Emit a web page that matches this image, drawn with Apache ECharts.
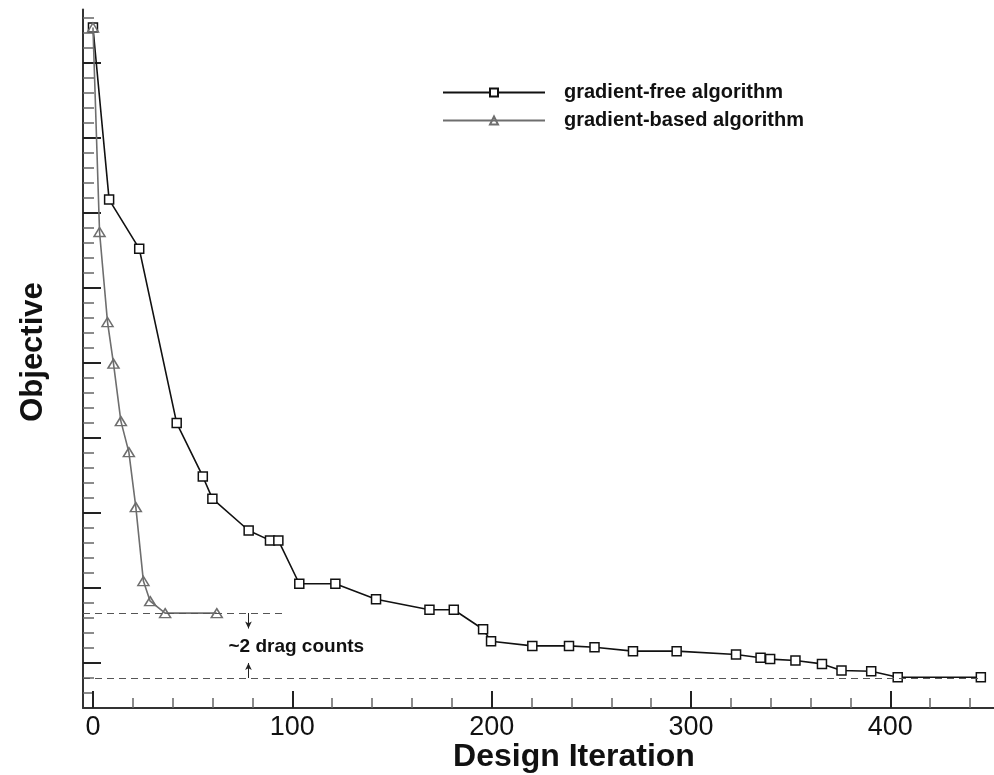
<!DOCTYPE html>
<html>
<head>
<meta charset="utf-8">
<script src="https://cdn.jsdelivr.net/npm/echarts@6/dist/echarts.min.js"></script>
<style>
html,body{margin:0;padding:0;background:#fff;}
#chart{width:994px;height:775px;}
</style>
</head>
<body>
<div id="chart"></div>
<script>
// ---- data (objective in arbitrary units; 5 units per major tick) ----
const iterFree = [0, 8.1, 23.2, 42.0, 55.1, 59.9, 78.1, 88.8, 93.0, 103.5, 121.6, 142.0, 168.8, 181.0, 195.7, 199.7, 220.4, 238.8, 251.6, 270.9, 292.8, 322.6, 334.9, 339.7, 352.4, 365.7, 375.5, 390.4, 403.7, 445.4];
const objFree  = [42.35, 30.88, 27.61, 15.99, 12.43, 10.95, 8.83, 8.17, 8.17, 5.28, 5.28, 4.25, 3.55, 3.55, 2.25, 1.45, 1.14, 1.14, 1.05, 0.79, 0.79, 0.57, 0.35, 0.26, 0.17, -0.06, -0.50, -0.55, -0.95, -0.95];
const iterBased = [0, 3.3, 7.3, 10.3, 14.0, 18.0, 21.5, 25.3, 28.7, 36.2, 62.1];
const objBased  = [42.35, 28.72, 22.72, 19.95, 16.12, 14.05, 10.39, 5.46, 4.12, 3.32, 3.32];

const seriesNames = ['gradient-free algorithm', 'gradient-based algorithm'];
const xTickLabels = [0, 100, 200, 300, 400];
const xMinorTicks = [20,40,60,80,120,140,160,180,220,240,260,280,320,340,360,380,420,440];
const yMajorTicks = [0,5,10,15,20,25,30,35,40];
const yMinorTicks = [-2,-1,1,2,3,4,6,7,8,9,11,12,13,14,16,17,18,19,21,22,23,24,26,27,28,29,31,32,33,34,36,37,38,39,41,42,43];

// reference levels and annotation
const refLevelUpper = 3.33;   // converged gradient-based value
const refLevelLower = -1.0;   // converged gradient-free value
const refUpperEndX = 97;
const refLowerEndX = 445.4;
const arrowX = 78;
const arrowUpperTip = 2.3;
const arrowLowerTip = 0.0;
const noteText = '~2 drag counts';
const notePos = [102, 1.1];

const xTitle = 'Design Iteration';
const yTitle = 'Objective';

const FONT = '"Liberation Sans", Arial, Helvetica, sans-serif';
const xMin = -5, xMax = 452, yMin = -3, yMax = 43.55;

function zip(a, b) { return a.map((v, i) => [v, b[i]]); }

const chart = echarts.init(document.getElementById('chart'), null, {renderer: 'canvas'});

const option = {
  animation: false,
  backgroundColor: '#fff',
  textStyle: {fontFamily: FONT},
  grid: {left: 83, right: 0, top: 9.5, bottom: 67, containLabel: false},
  legend: {
    data: seriesNames,
    orient: 'vertical',
    left: 442,
    top: 82.5,
    padding: 0,
    itemWidth: 102,
    itemHeight: 10,
    itemGap: 8,
    textStyle: {fontFamily: FONT, fontSize: 20, fontWeight: 'bold', color: '#111', padding: [0, 0, 0, 14]}
  },
  xAxis: [
    {
      type: 'value', position: 'bottom', min: xMin, max: xMax,
      axisLine: {show: true, onZero: false, lineStyle: {color: '#333', width: 2}},
      axisTick: {show: true, inside: true, length: 17, customValues: xTickLabels, lineStyle: {color: '#222', width: 2}},
      axisLabel: {show: true, customValues: xTickLabels, fontFamily: FONT, fontSize: 27, color: '#111', margin: 6},
      splitLine: {show: false}
    },
    {
      type: 'value', position: 'bottom', min: xMin, max: xMax,
      axisLine: {show: false, onZero: false},
      axisTick: {show: true, inside: true, length: 10, customValues: xMinorTicks, lineStyle: {color: '#666', width: 1.5}},
      axisLabel: {show: false},
      splitLine: {show: false}
    }
  ],
  yAxis: [
    {
      type: 'value', position: 'left', min: yMin, max: yMax,
      axisLine: {show: true, onZero: false, lineStyle: {color: '#333', width: 2}},
      axisTick: {show: true, inside: true, length: 18, customValues: yMajorTicks, lineStyle: {color: '#222', width: 2}},
      axisLabel: {show: false},
      splitLine: {show: false}
    },
    {
      type: 'value', position: 'left', min: yMin, max: yMax,
      axisLine: {show: false, onZero: false},
      axisTick: {show: true, inside: true, length: 11, customValues: yMinorTicks, lineStyle: {color: '#666', width: 1.5}},
      axisLabel: {show: false},
      splitLine: {show: false}
    }
  ],
  series: [
    {
      name: 'reference',
      type: 'line',
      data: [],
      silent: true,
      z: 1,
      markLine: {
        silent: true,
        symbol: 'none',
        label: {show: false},
        lineStyle: {type: [7, 5], color: '#555', width: 1.2},
        data: [
          [{coord: [xMin, refLevelUpper]}, {coord: [refUpperEndX, refLevelUpper]}],
          [{coord: [xMin, refLevelLower]}, {coord: [refLowerEndX, refLevelLower]}],
          [{coord: [arrowX, refLevelUpper], symbol: 'none', lineStyle: {type: 'solid', color: '#222', width: 1}},
           {coord: [arrowX, arrowUpperTip], symbol: 'arrow', symbolSize: [5, 7]}],
          [{coord: [arrowX, refLevelLower], symbol: 'none', lineStyle: {type: 'solid', color: '#222', width: 1}},
           {coord: [arrowX, arrowLowerTip], symbol: 'arrow', symbolSize: [5, 7]}]
        ]
      },
      markPoint: {
        silent: true,
        symbol: 'circle',
        symbolSize: 0,
        data: [{coord: notePos, label: {show: true, position: 'inside', formatter: noteText,
          fontFamily: FONT, fontSize: 19, fontWeight: 'bold', color: '#111'}}]
      }
    },
    {
      name: seriesNames[0],
      type: 'line',
      data: zip(iterFree, objFree),
      symbol: 'rect',
      symbolSize: 9,
      color: '#111',
      lineStyle: {color: '#111', width: 1.6},
      itemStyle: {color: '#fff', borderColor: '#111', borderWidth: 1.5},
      z: 3
    },
    {
      name: seriesNames[1],
      type: 'line',
      data: zip(iterBased, objBased),
      symbol: 'triangle',
      symbolSize: [11, 9],
      color: '#6e6e6e',
      lineStyle: {color: '#6e6e6e', width: 1.6},
      itemStyle: {color: 'rgba(255,255,255,0)', borderColor: '#6e6e6e', borderWidth: 1.5},
      z: 4
    }
  ],
  graphic: [
    {type: 'text', x: 574, y: 757, style: {text: xTitle, fontFamily: FONT, fontSize: 32, fontWeight: 'bold', fill: '#111', align: 'center', verticalAlign: 'middle'}},
    {type: 'text', x: 33, y: 352, rotation: Math.PI / 2, style: {text: yTitle, fontFamily: FONT, fontSize: 31, fontWeight: 'bold', fill: '#111', align: 'center', verticalAlign: 'middle'}}
  ]
};

chart.setOption(option);
</script>
</body>
</html>
